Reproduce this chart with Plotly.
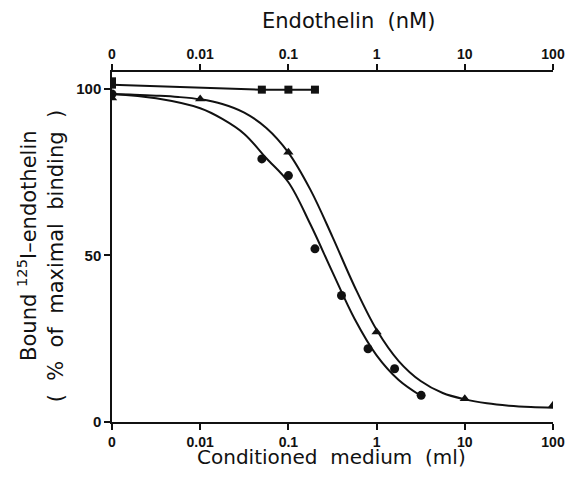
import plotly.graph_objects as go

# ---------------- data ----------------
# Conditioned medium (ml) – circles
circle_ml = [0, 0.05, 0.1, 0.2, 0.4, 0.8, 1.6, 3.2]
circle_pct = [98.5, 79, 74, 52, 38, 22, 16, 8]

# Conditioned medium (ml) – triangles
tri_ml = [0, 0.01, 0.1, 1, 10, 100]
tri_pct = [97.3, 97, 81, 27, 7, 5]

# Endothelin (nM) – squares (top axis)
sq_nM = [0, 0, 0.05, 0.1, 0.2]
sq_pct = [102.3, 101.3, 99.8, 99.8, 99.8]

# fitted curves, as traced on the figure
curve_circle_ml = [0, 0.00316, 0.01, 0.0178, 0.0316, 0.0562, 0.1, 0.178,
                   0.316, 0.562, 1, 1.78, 3.2]
curve_circle_pct = [98.5, 97.2, 94.2, 91.0, 86.5, 79.2, 72.0, 59.3,
                    45.0, 31.0, 20.0, 12.6, 7.8]

curve_tri_ml = [0, 0.00178, 0.00316, 0.00562, 0.01, 0.0178, 0.0316, 0.0562,
                0.1, 0.178, 0.316, 0.562, 1, 1.78, 3.16, 5.62, 10, 17.8,
                31.6, 56.2, 100]
curve_tri_pct = [98.5, 98.3, 98.0, 97.6, 96.9, 95.5, 92.9, 88.3,
                 80.9, 69.7, 55.6, 40.7, 27.7, 18.3, 12.3, 8.7, 6.8, 5.6,
                 4.9, 4.5, 4.3]

tick_vals = [0.001, 0.01, 0.1, 1, 10, 100]
tick_text = ["0", "0.01", "0.1", "1", "10", "100"]

ZERO_POS = 0.001  # position where "0" is drawn on the log axes


def place(xs):
    return [ZERO_POS if v == 0 else v for v in xs]


# ---------------- figure ----------------
# the page adds an 8 px body margin on every side; lay the figure out so
# that it fits the 585x478 window exactly
OFF = 8
W, H = 585 - 2 * OFF, 478 - 2 * OFF
L, R, T, B = 104, 14, 64, 48
PW, PH = W - L - R, H - T - B


def px(x):  # screen pixel -> paper x
    return (x - OFF - L) / PW


def py(y):  # screen pixel -> paper y
    return (H - B - (y - OFF)) / PH


TICK_FONT = "Liberation Sans"
TITLE_FONT = "DejaVu Sans"
black = "#111111"

fig = go.Figure()

fig.add_trace(go.Scatter(x=place(curve_circle_ml), y=curve_circle_pct,
                         mode="lines", line=dict(color=black, width=2,
                                                 shape="spline"),
                         showlegend=False, hoverinfo="skip"))
fig.add_trace(go.Scatter(x=place(curve_tri_ml), y=curve_tri_pct,
                         mode="lines", line=dict(color=black, width=2,
                                                 shape="spline"),
                         showlegend=False, hoverinfo="skip"))
fig.add_trace(go.Scatter(x=place(circle_ml), y=circle_pct, mode="markers",
                         marker=dict(symbol="circle", size=9, color=black),
                         showlegend=False))
fig.add_trace(go.Scatter(x=place(tri_ml), y=tri_pct, mode="markers",
                         marker=dict(symbol="triangle-up", size=9, color=black),
                         showlegend=False))
fig.add_trace(go.Scatter(x=place(sq_nM[1:]), y=sq_pct[1:], mode="lines+markers",
                         xaxis="x2",
                         line=dict(color=black, width=2),
                         marker=dict(symbol="square", size=8, color=black),
                         showlegend=False))
fig.add_trace(go.Scatter(x=place(sq_nM[:1]), y=sq_pct[:1], mode="markers",
                         xaxis="x2",
                         marker=dict(symbol="square", size=8, color=black),
                         showlegend=False))

axis_common = dict(
    type="log", range=[-3, 2], tickvals=tick_vals, ticktext=tick_text,
    ticks="outside", ticklen=6, tickwidth=1.5, tickcolor=black,
    showline=True, linecolor=black, linewidth=1.5, showgrid=False,
    zeroline=False,
    tickfont=dict(family=TICK_FONT, size=14, color=black, weight="bold"),
)

title_font = dict(family=TITLE_FONT, size=21, color=black)

fig.update_layout(
    width=W, height=H,
    margin=dict(l=L, r=R, t=T, b=B),
    paper_bgcolor="white", plot_bgcolor="white",
    xaxis=dict(**axis_common, anchor="y"),
    xaxis2=dict(**axis_common, overlaying="x", side="top", anchor="y"),
    yaxis=dict(range=[0, 105.1], tickvals=[0, 50, 100],
               ticks="outside", ticklen=6, tickwidth=1.5, tickcolor=black,
               showline=True, linecolor=black, linewidth=1.5,
               showgrid=False, zeroline=False,
               tickfont=dict(family=TICK_FONT, size=15, color=black,
                             weight="bold")),
    annotations=[
        dict(text="Endothelin  (nM)", x=px(354), y=py(21), xref="paper",
             yref="paper", showarrow=False, xanchor="center",
             yanchor="middle", font=title_font),
        dict(text="Conditioned  medium  (ml)", x=px(336), y=py(457),
             xref="paper", yref="paper", showarrow=False, xanchor="center",
             yanchor="middle", font=dict(family=TITLE_FONT, size=20,
                                         color=black)),
        dict(text="Bound <sup>125</sup>I\u2013endothelin", x=px(25),
             y=py(246), xref="paper", yref="paper", showarrow=False,
             xanchor="center", yanchor="middle",
             textangle=-90, font=title_font),
        dict(text="(  %  of  maximal  binding  )", x=px(55), y=py(256),
             xref="paper", yref="paper", showarrow=False, textangle=-90,
             xanchor="center", yanchor="middle", font=title_font),
    ],
)

fig.write_html("out.html")
